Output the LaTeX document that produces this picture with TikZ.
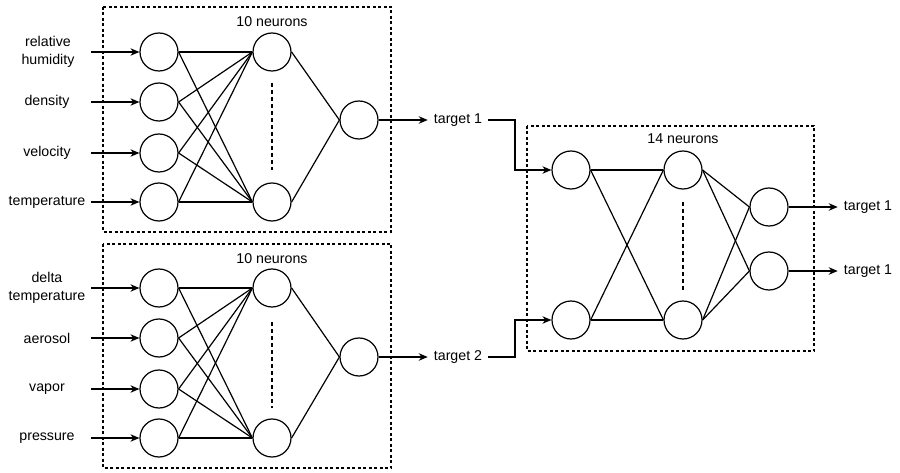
\documentclass[tikz,border=0pt]{standalone}
\usepackage{fontspec}
\setmainfont{Liberation Sans}
\usetikzlibrary{arrows.meta}
\begin{document}
\begin{tikzpicture}[x=1pt,y=-1pt,
  neuron/.style={draw,circle,minimum size=38pt,inner sep=0pt,line width=1.2pt},
  lbl/.style={font=\fontsize{14.2}{18}\selectfont,align=center,inner sep=0pt},
  edge/.style={line width=1.2pt},
  arr/.style={line width=1.2pt,-{Stealth[length=9pt,width=7.5pt]}},
  grp/.style={draw,line width=1.1pt,dash pattern=on 3pt off 2.5pt},
  vdash/.style={line width=1.1pt,dash pattern=on 4pt off 3pt}]
\useasboundingbox (0,0) rectangle (900,473);
% group boxes
\draw[grp] (103,7) rectangle (391,232);
\draw[grp] (103,244) rectangle (391,468);
\draw[grp] (527,126) rectangle (814,351);
\node[lbl] (n10a) at (272,22) {10 neurons};
\node[lbl] (n10b) at (272,259) {10 neurons};
\node[lbl] (n14) at (683,139) {14 neurons};
% ---------- top network ----------
\foreach \i/\y in {1/52,2/102,3/153,4/202}{
  \node[neuron] (a\i) at (159,\y) {};
  \coordinate (sa\i) at (91,\y);
}
\node[neuron] (ah1) at (272,52) {};
\node[neuron] (ah2) at (272,202) {};
\node[neuron] (ao) at (359,120) {};
\draw[vdash] (272,83) -- (272,170);
\node[lbl] at (48,52) {relative\\humidity};
\node[lbl] at (47,102) {density};
\node[lbl] at (47,153) {velocity};
\node[lbl] at (47,202) {temperature};
\foreach \i in {1,...,4}{
  \draw[arr] (sa\i) -- (a\i.west);
  \draw[edge] (a\i.east) -- (ah1.west);
  \draw[edge] (a\i.east) -- (ah2.west);
}
\draw[edge] (ah1.east) -- (ao.west);
\draw[edge] (ah2.east) -- (ao.west);
% ---------- bottom network ----------
\foreach \i/\y in {1/288,2/338,3/389,4/438}{
  \node[neuron] (b\i) at (159,\y) {};
  \coordinate (sb\i) at (91,\y);
}
\node[neuron] (bh1) at (272,288) {};
\node[neuron] (bh2) at (272,438) {};
\node[neuron] (bo) at (359,357) {};
\draw[vdash] (272,322) -- (272,408);
\node[lbl] at (47,288) {delta\\temperature};
\node[lbl] at (47,338) {aerosol};
\node[lbl] at (47,389) {vapor};
\node[lbl] at (47,438) {pressure};
\foreach \i in {1,...,4}{
  \draw[arr] (sb\i) -- (b\i.west);
  \draw[edge] (b\i.east) -- (bh1.west);
  \draw[edge] (b\i.east) -- (bh2.west);
}
\draw[edge] (bh1.east) -- (bo.west);
\draw[edge] (bh2.east) -- (bo.west);
% ---------- targets ----------
\node[lbl,inner xsep=6pt] (t1) at (458,120) {target 1};
\node[lbl,inner xsep=6pt] (t2) at (458,357) {target 2};
\draw[arr] (ao.east) -- (t1.west);
\draw[arr] (bo.east) -- (t2.west);
% ---------- right network ----------
\node[neuron] (c1) at (571,170) {};
\node[neuron] (c2) at (571,320) {};
\node[neuron] (ch1) at (683,170) {};
\node[neuron] (ch2) at (683,320) {};
\node[neuron] (co1) at (769,207) {};
\node[neuron] (co2) at (769,271) {};
\draw[vdash] (683,202) -- (683,290);
\coordinate (k1) at (515,170);
\coordinate (k2) at (515,320);
\draw[arr] (t1.east) -| (k1) -- (c1.west);
\draw[arr] (t2.east) -| (k2) -- (c2.west);
\foreach \s in {c1,c2}{
  \draw[edge] (\s.east) -- (ch1.west);
  \draw[edge] (\s.east) -- (ch2.west);
}
\foreach \s in {ch1,ch2}{
  \draw[edge] (\s.east) -- (co1.west);
  \draw[edge] (\s.east) -- (co2.west);
}
\node[lbl,inner xsep=6pt] (r1) at (868,207) {target 1};
\node[lbl,inner xsep=6pt] (r2) at (868,271) {target 1};
\draw[arr] (co1.east) -- (r1.west);
\draw[arr] (co2.east) -- (r2.west);
\end{tikzpicture}
\end{document}
